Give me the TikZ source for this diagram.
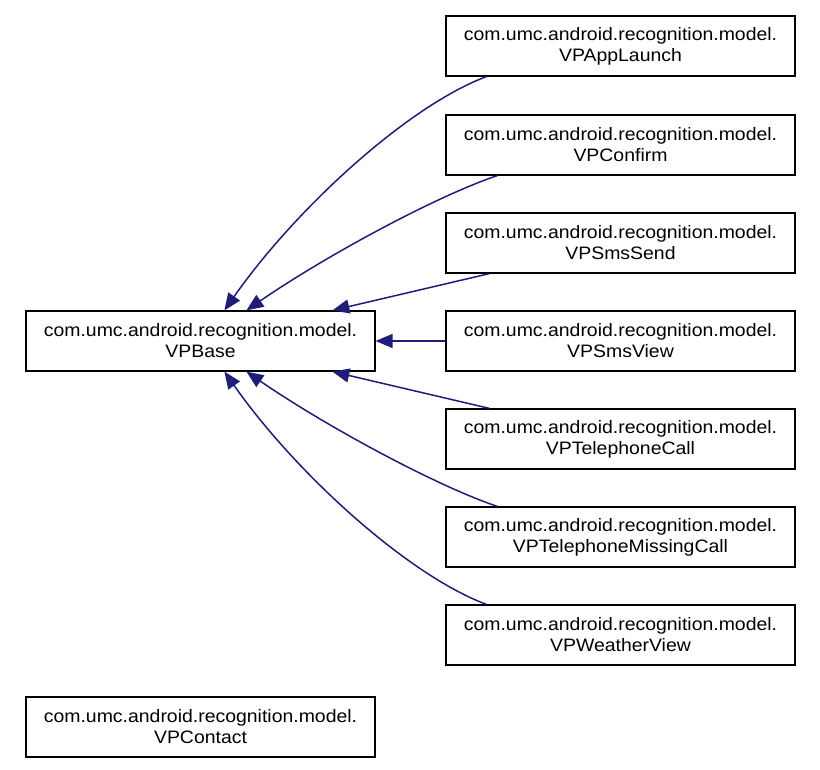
\documentclass[tikz,border=0pt]{standalone}
\usepackage{fontspec}
\setmainfont[FakeStretch=1.08]{Liberation Sans}
\usetikzlibrary{arrows.meta}
\definecolor{edgeblue}{HTML}{1E1E78}
\tikzset{
  cls/.style={draw=black, line width=1.2pt, fill=white, rectangle, minimum width=349pt, minimum height=60pt, inner sep=0pt, align=center, font=\fontsize{18pt}{21pt}\selectfont},
  inh/.style={draw=edgeblue, line width=1.5pt, -{Triangle[length=17pt,width=14pt]}, color=edgeblue}
}
\begin{document}
\begin{tikzpicture}[x=1pt,y=-1pt]
\useasboundingbox (0,0) rectangle (820,770);
\node[cls] (base) at (200.5,341) {com.umc.android.recognition.model.\\VPBase};
\node[cls] (al) at (620.5,46) {com.umc.android.recognition.model.\\VPAppLaunch};
\node[cls] (cf) at (620.5,145) {com.umc.android.recognition.model.\\VPConfirm};
\node[cls] (ss) at (620.5,243) {com.umc.android.recognition.model.\\VPSmsSend};
\node[cls] (sv) at (620.5,341) {com.umc.android.recognition.model.\\VPSmsView};
\node[cls] (tc) at (620.5,439) {com.umc.android.recognition.model.\\VPTelephoneCall};
\node[cls] (mc) at (620.5,537) {com.umc.android.recognition.model.\\VPTelephoneMissingCall};
\node[cls] (wv) at (620.5,635) {com.umc.android.recognition.model.\\VPWeatherView};
\node[cls] (ct) at (200.5,727) {com.umc.android.recognition.model.\\VPContact};

\coordinate (t1) at ([xshift=199pt]base.north west);
\coordinate (t2) at ([xshift=221pt]base.north west);
\coordinate (t3) at ([xshift=307pt]base.north west);
\coordinate (b1) at ([xshift=199pt]base.south west);
\coordinate (b2) at ([xshift=221pt]base.south west);
\coordinate (b3) at ([xshift=307pt]base.south west);

\draw[inh] ([xshift=41pt]al.south west) .. controls +(-80,30) and +(70,-100) .. (t1);
\draw[inh] ([xshift=52pt]cf.south west) .. controls +(-60,20) and +(80,-55) .. (t2);
\draw[inh] ([xshift=44pt]ss.south west) -- (t3);
\draw[inh] (sv.west) -- (base.east);
\draw[inh] ([xshift=44pt]tc.north west) -- (b3);
\draw[inh] ([xshift=52pt]mc.north west) .. controls +(-60,-20) and +(80,55) .. (b2);
\draw[inh] ([xshift=41pt]wv.north west) .. controls +(-80,-30) and +(70,100) .. (b1);
\end{tikzpicture}
\end{document}
